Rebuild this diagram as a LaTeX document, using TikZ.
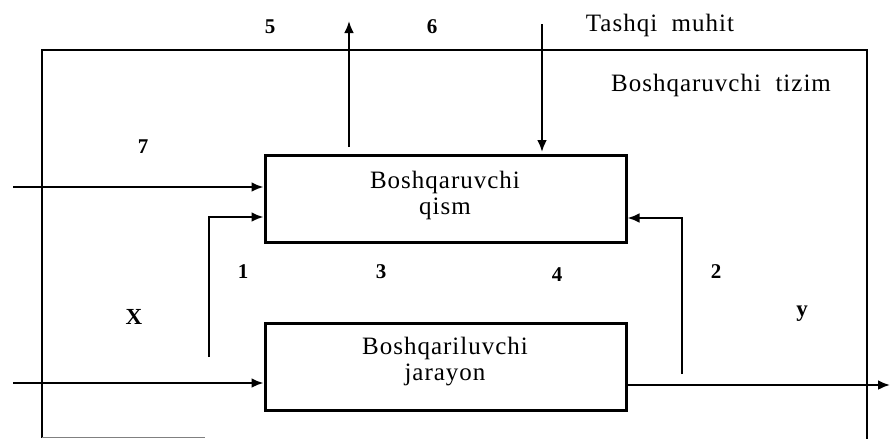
\documentclass[tikz,border=0pt]{standalone}
\usepackage{fontspec}
\setmainfont{Liberation Serif}
\usetikzlibrary{arrows.meta}
\tikzset{
  frame/.style={line width=2pt},
  blockbox/.style={draw, line width=3pt, minimum width=361pt, minimum height=87pt, inner sep=0pt},
  arr/.style={line width=2.5pt, -{Latex[length=12pt,width=10pt]}},
  txt/.style={font=\fontsize{25}{26}\selectfont\addfontfeature{LetterSpace=4}, align=center, inner sep=0pt},
  num/.style={font=\fontsize{21}{22}\selectfont\bfseries, inner sep=0pt}
}
\begin{document}
\begin{tikzpicture}[x=1pt,y=-1pt]
\useasboundingbox (0,0) rectangle (890,439);
% outer frame
\draw[frame] (42,438) -- (42,50) -- (867,50) -- (867,439);
\draw[line width=1pt, gray] (42,437) -- (205,437);
% blocks
\node[blockbox] (top) at (445.5,198.5) {};
\node[blockbox] (bot) at (445.5,366.5) {};
\node[txt] (toptxt) at (445,195) {Boshqaruvchi\\qism};
\node[txt] (bottxt) at (445,362) {Boshqariluvchi\\jarayon};
% coordinates
\coordinate (in7) at (13,187);
\coordinate (inX) at (13,383);
\coordinate (out) at (890,385);
\coordinate (f1b) at (209,357);
\coordinate (f1t) at (209,217);
\coordinate (f2b) at (682,374);
\coordinate (f2t) at (682,218);
\coordinate (u5a) at (349,147);
\coordinate (u5b) at (349,21);
\coordinate (d6a) at (542,24);
\coordinate (d6b) at (542,152);
% connectors
\draw[arr] (in7) -- (in7 -| top.west);
\draw[arr] (inX) -- (inX -| bot.west);
\draw[arr] (out -| bot.east) -- (out);
\draw[arr] (f1b) -- (f1t) -- (f1t -| top.west);
\draw[arr] (f2b) -- (f2t) -- (f2t -| top.east);
\draw[arr] (u5a) -- (u5b);
\draw[arr] (d6a) -- (d6b);
% labels
\node[num] (n5) at (270,27) {5};
\node[num] (n6) at (432,27) {6};
\node[txt] (tm) at (660,25) {Tashqi\ \ muhit};
\node[txt] (bt) at (721,85) {Boshqaruvchi\ \ tizim};
\node[num] (n7) at (143,147) {7};
\node[num] (n1) at (243,272) {1};
\node[num] (n3) at (381,272) {3};
\node[num] (n4) at (557,275) {4};
\node[num] (n2) at (716,272) {2};
\node[num, font=\fontsize{23}{24}\selectfont\bfseries] (lx) at (134,317) {X};
\node[num, font=\fontsize{23}{24}\selectfont\bfseries] (ly) at (802,314) {y};
\end{tikzpicture}
\end{document}
